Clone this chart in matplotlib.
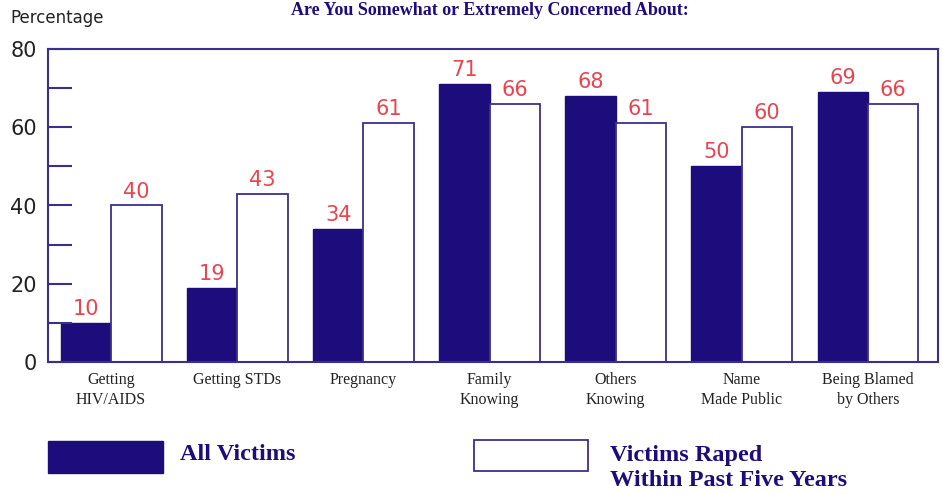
import numpy as np
import matplotlib.pyplot as plt
from matplotlib.patches import Rectangle

categories = ["Getting\nHIV/AIDS", "Getting STDs", "Pregnancy", "Family\nKnowing",
              "Others\nKnowing", "Name\nMade Public", "Being Blamed\nby Others"]
all_victims = [10, 19, 34, 71, 68, 50, 69]
recent_victims = [40, 43, 61, 66, 61, 60, 66]

navy = "#1d0c7c"
edge = "#3b2f8c"
red = "#e8454f"
serif = ["Liberation Serif", "DejaVu Serif"]

fig = plt.figure(figsize=(9.43, 4.94), dpi=100)
ax = fig.add_axes([48 / 943, 1 - 362 / 494, 890 / 943, 313 / 494])

x = np.arange(len(categories))
w = 0.4
b1 = ax.bar(x - w / 2, all_victims, w, color=navy, edgecolor=navy, linewidth=1)
b2 = ax.bar(x + w / 2, recent_victims, w, color="white", edgecolor=edge, linewidth=1.3)

for bars, vals in ((b1, all_victims), (b2, recent_victims)):
    for r, v in zip(bars, vals):
        ax.text(r.get_x() + r.get_width() / 2, v + 1, str(v), ha="center", va="bottom",
                color=red, fontsize=15, family="DejaVu Sans")

ax.set_xlim(-0.5, 6.555)
ax.set_ylim(0, 80)
ax.set_yticks([0, 20, 40, 60, 80])
ax.set_yticks([10, 30, 50, 70], minor=True)
ax.tick_params(axis="y", which="both", direction="in", length=17, width=1.5, color=edge,
               labelsize=15, labelcolor="#222222", pad=8)
ax.set_xticks(x)
ax.set_xticklabels(categories, fontsize=11.5, family=serif, color="#222222", linespacing=1.35)
ax.tick_params(axis="x", length=0, pad=7)
for s in ax.spines.values():
    s.set_color(edge)
    s.set_linewidth(1.5)

fig.text(10 / 943, 1 - 18 / 494, "Percentage", fontsize=12, color="#222222", va="center")
fig.text(490 / 943, 1 - 2 / 494, "Are You Somewhat or Extremely Concerned About:", fontsize=13,
         fontweight="bold", color=navy, ha="center", va="top", family=serif)

# legend
fig.add_artist(Rectangle((48 / 943, 1 - 473 / 494), 115 / 943, 32 / 494,
                         transform=fig.transFigure, facecolor=navy, edgecolor=navy))
fig.text(180 / 943, 1 - 454 / 494, "All Victims", fontsize=17.5, fontweight="bold",
         color=navy, va="center", family=serif)
fig.add_artist(Rectangle((474 / 943, 1 - 471 / 494), 114 / 943, 31 / 494,
                         transform=fig.transFigure, facecolor="white", edgecolor=edge, lw=1.3))
fig.text(610 / 943, 1 - 468 / 494, "Victims Raped\nWithin Past Five Years", fontsize=17.5,
         fontweight="bold", color=navy, va="center", family=serif, linespacing=1.3)

fig.savefig("out.png", dpi=100)
